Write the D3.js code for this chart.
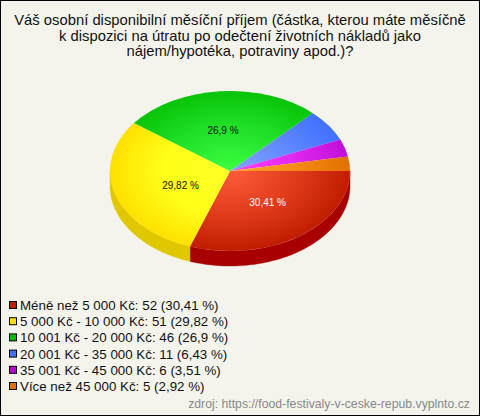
<!DOCTYPE html>
<html><head><meta charset="utf-8">
<script src="https://cdn.jsdelivr.net/npm/d3@7/dist/d3.min.js"></script>
<style>html,body{margin:0;padding:0;background:#f5f4ec}svg{display:block}text{font-family:"Liberation Sans",Arial,sans-serif}</style>
</head><body><svg id="c" width="480" height="416"></svg>
<script>
const titleLines = ["Váš osobní disponibilní měsíční příjem (částka, kterou máte měsíčně","k dispozici na útratu po odečtení životních nákladů jako","nájem/hypotéka, potraviny apod.)?"];
const categories = ["Méně než 5 000 Kč","5 000 Kč - 10 000 Kč","10 001 Kč - 20 000 Kč","20 001 Kč - 35 000 Kč","35 001 Kč - 45 000 Kč","Více než 45 000 Kč"];
const counts = [52,51,46,11,6,5];
const percents = ["30,41","29,82","26,9","6,43","3,51","2,92"];
const swatch = ["#c02000","#ffe000","#00c000","#4070ff","#c000d0","#e07000"];
const inner = ["#ff5c3c","#ffff28","#3cff40","#84a4ff","#ff40ff","#ffa428"];
const middle = ["#e03c1c","#ffff18","#20e028","#6088ff","#e028f0","#f88a18"];
const outer = ["#c01c00","#ffe000","#08c408","#4070ff","#c010d8","#e07000"];
const side = ["#a80000","#e0c800","#009000","#3050c0","#900090","#b05000"];
const source = "zdroj: https://food-festivaly-v-ceske-repub.vyplnto.cz";

const W=480,H=416,cx=230,cy=171,rx=120,ry=80,depth=15;
const svg=d3.select("#c");
svg.append("rect").attr("x",0).attr("y",0).attr("width",W).attr("height",H).attr("fill","#f5f4ec");
svg.append("rect").attr("x",0).attr("y",0).attr("width",W).attr("height",H).attr("fill","none").attr("stroke","#000").attr("stroke-width",2);

svg.append("g").selectAll("text").data(titleLines).join("text")
 .attr("x",240).attr("y",(d,i)=>25+i*15.5).attr("text-anchor","middle").attr("font-size",14.8).attr("fill","#111").text(d=>d);

const pie=d3.pie().sort(null).startAngle(Math.PI/2).endAngle(Math.PI/2+2*Math.PI).value(d=>d)(counts);
const defs=svg.append("defs");
defs.selectAll("radialGradient").data(pie).join("radialGradient")
 .attr("id",(d,i)=>"g"+i).attr("gradientUnits","userSpaceOnUse").attr("cx",0).attr("cy",0).attr("r",120)
 .each(function(d,i){const g=d3.select(this);
  g.append("stop").attr("offset",0).attr("stop-color",inner[i]);
  g.append("stop").attr("offset",.55).attr("stop-color",middle[i]);
  g.append("stop").attr("offset",1).attr("stop-color",outer[i]);});

const ang=a=>a-Math.PI/2;
const sideG=svg.append("g").attr("transform",`translate(${cx},${cy})`);
pie.forEach((d,i)=>{
  let a0=Math.max(ang(d.startAngle),0), a1=Math.min(ang(d.endAngle),Math.PI);
  if(a1<=a0) return;
  const pts=d3.range(0,61).map(k=>a0+(a1-a0)*k/60);
  const area=d3.area().x(a=>rx*Math.cos(a)).y0(a=>ry*Math.sin(a)).y1(a=>ry*Math.sin(a)+depth);
  sideG.append("path").attr("d",area(pts)).attr("fill",side[i]).attr("stroke",side[i]).attr("stroke-width",.4);
});

const arc=d3.arc().innerRadius(0).outerRadius(rx);
const topG=svg.append("g").attr("transform",`translate(${cx},${cy}) scale(1,${ry/rx})`);
topG.selectAll("path").data(pie).join("path").attr("d",arc).attr("fill",(d,i)=>`url(#g${i})`);

const nudge=[[3,-1],[8,3],[-2,-1]];
const labelIdx=[0,1,2], labelFill=["#fff","#111","#111"];
svg.append("g").selectAll("text").data(labelIdx).join("text")
 .attr("x",i=>cx+60*Math.cos(ang((pie[i].startAngle+pie[i].endAngle)/2))+nudge[i][0])
 .attr("y",i=>cy+40*Math.sin(ang((pie[i].startAngle+pie[i].endAngle)/2))+nudge[i][1]+3.5)
 .attr("text-anchor","middle").attr("font-size",10).attr("fill",i=>labelFill[i])
 .text(i=>percents[i]+" %");

const lg=svg.append("g").selectAll("g").data(categories).join("g").attr("transform",(d,i)=>`translate(0,${305+i*16.2})`);
lg.append("rect").attr("x",9.5).attr("y",-3.5).attr("width",7).attr("height",7).attr("fill",(d,i)=>swatch[i]).attr("stroke","#000");
lg.append("text").attr("x",20).attr("y",5).attr("font-size",13.33).attr("fill","#111").text((d,i)=>`${d}: ${counts[i]} (${percents[i]} %)`);

svg.append("text").attr("x",470).attr("y",408).attr("text-anchor","end").attr("font-size",12.25).attr("fill","#888").text(source);
</script></body></html>
